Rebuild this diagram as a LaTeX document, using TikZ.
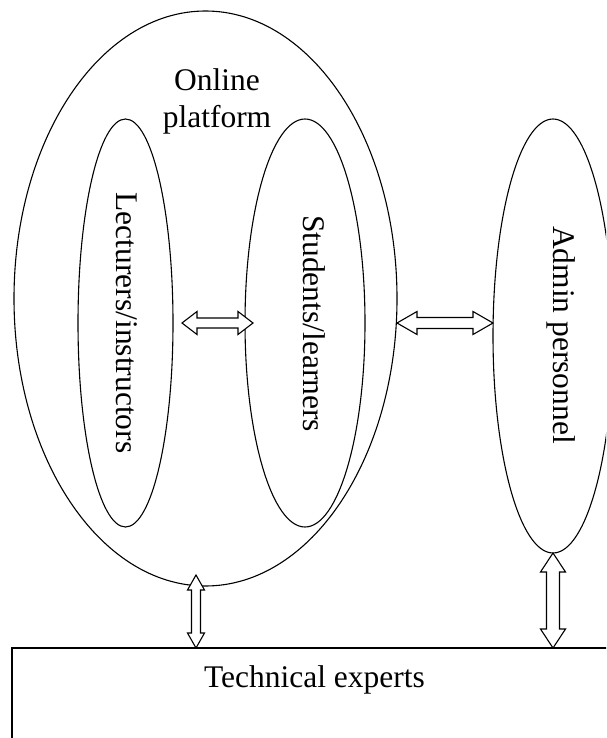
\documentclass[tikz,border=0pt]{standalone}
\usepackage{fontspec}
\setmainfont{Liberation Serif}
\usetikzlibrary{shapes.geometric,calc}
\tikzset{
  oval/.style={draw, ellipse, inner sep=0pt, outer sep=0pt, line width=1.1pt},
  lbl/.style={font=\fontsize{31.5}{36.5}\selectfont, inner sep=0pt},
  dbl/.style={draw, fill=white, line width=1.1pt, line join=miter},
}
% horizontal double arrow: #1 options, head length #2, half head #3, half shaft #4
\newcommand{\hdbl}[4]{\x1,\y1) -- (\x1+#2,\y1+#3) -- (\x1+#2,\y1+#4) -- (\x2-#2,\y1+#4) -- (\x2-#2,\y1+#3) -- (\x2,\y1) -- (\x2-#2,\y1-#3) -- (\x2-#2,\y1-#4) -- (\x1+#2,\y1-#4) -- (\x1+#2,\y1-#3) -- cycle}
\begin{document}
\begin{tikzpicture}[x=1pt,y=-1pt]
\useasboundingbox (0,0) rectangle (606,738);
\clip (0,0) rectangle (606,738);
% ellipses
\node[oval, minimum width=383pt, minimum height=575pt] (plat) at (205.5,298.5) {};
\node[oval, minimum width=95pt, minimum height=408pt] (lect) at (125.5,323) {};
\node[oval, minimum width=120pt, minimum height=408pt] (stud) at (305,323) {};
\node[oval, minimum width=120pt, minimum height=434pt] (admin) at (553,336) {};
% box
\node[draw, line width=1.5pt, inner sep=0pt, outer sep=0pt, minimum width=608pt, minimum height=112pt] (tech) at (316,704) {};
% labels
\node[lbl, align=center] (tplat) at (217,101.5) {Online\\platform};
\node[lbl, rotate=-90] (tlect) at (126.5,323) {Lecturers/instructors};
\node[lbl, rotate=-90] (tstud) at (314,323.5) {Students/learners};
\node[lbl, rotate=-90] (tadmin) at (561,335) {Admin personnel};
\node[lbl] (ttech) at (314.5,680) {Technical experts};
% double arrows
\path[dbl] let \p1=($(lect.east)+(9,0)$), \p2=($(stud.west)+(8,0)$) in
  (\x1,\y1) -- (\x1+15pt,\y1+11.5pt) -- (\x1+15pt,\y1+5pt) -- (\x2-15pt,\y1+5pt) -- (\x2-15pt,\y1+11.5pt) -- (\x2,\y1) -- (\x2-15pt,\y1-11.5pt) -- (\x2-15pt,\y1-5pt) -- (\x1+15pt,\y1-5pt) -- (\x1+15pt,\y1-11.5pt) -- cycle;
\path[dbl] let \p1=(plat.east |- stud.center), \p2=(admin.west |- stud.center) in
  (\x1,\y1) -- (\x1+20pt,\y1+11.5pt) -- (\x1+20pt,\y1+5.5pt) -- (\x2-20pt,\y1+5.5pt) -- (\x2-20pt,\y1+11.5pt) -- (\x2,\y1) -- (\x2-20pt,\y1-11.5pt) -- (\x2-20pt,\y1-5.5pt) -- (\x1+20pt,\y1-5.5pt) -- (\x1+20pt,\y1-11.5pt) -- cycle;
\path[dbl] let \p1=($(plat.south)+(-9.5,-11)$), \p2=(tech.north) in
  (\x1,\y1) -- (\x1+8.5pt,\y1-15pt) -- (\x1+4.5pt,\y1-15pt) -- (\x1+4.5pt,\y2+15pt) -- (\x1+8.5pt,\y2+15pt) -- (\x1,\y2) -- (\x1-8.5pt,\y2+15pt) -- (\x1-4.5pt,\y2+15pt) -- (\x1-4.5pt,\y1-15pt) -- (\x1-8.5pt,\y1-15pt) -- cycle;
\path[dbl] let \p1=(admin.south), \p2=(tech.north) in
  (\x1,\y1) -- (\x1+12.5pt,\y1-19pt) -- (\x1+6.5pt,\y1-19pt) -- (\x1+6.5pt,\y2+19pt) -- (\x1+12.5pt,\y2+19pt) -- (\x1,\y2) -- (\x1-12.5pt,\y2+19pt) -- (\x1-6.5pt,\y2+19pt) -- (\x1-6.5pt,\y1-19pt) -- (\x1-12.5pt,\y1-19pt) -- cycle;
\end{tikzpicture}
\end{document}
